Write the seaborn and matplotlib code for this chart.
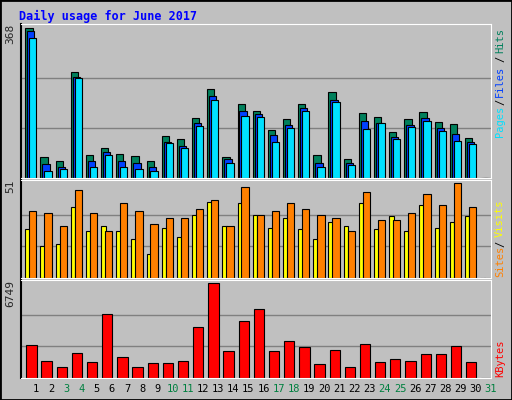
import numpy as np
import pandas as pd
import seaborn as sns
import matplotlib.pyplot as plt
from matplotlib.patches import Rectangle

sns.set_style("white")
plt.rcParams['font.family'] = ['DejaVu Sans Mono']

days = list(range(1, 32))
weekends = [3, 4, 10, 11, 17, 18, 24, 25, 31]

hits = [368, 51, 41, 261, 56, 73, 58, 53, 41, 103, 96, 148, 218, 51, 181,
        166, 118, 146, 183, 56, 211, 46, 161, 151, 113, 146, 163, 138, 133, 98, 0]
files = [363, 35, 28, 248, 43, 63, 41, 36, 28, 88, 78, 136, 201, 46, 166,
         158, 106, 131, 173, 36, 191, 36, 141, 136, 101, 131, 148, 123, 108, 88, 0]
pages = [345, 18, 23, 246, 28, 56, 28, 23, 16, 86, 73, 128, 193, 38, 153,
         151, 88, 123, 166, 26, 188, 31, 121, 136, 96, 126, 141, 116, 91, 83, 0]
sites = [26, 17, 18, 38, 25, 28, 25, 21, 13, 27, 22, 34, 41, 28, 40,
         34, 27, 32, 26, 21, 30, 28, 40, 26, 33, 25, 39, 27, 30, 33, 0]
visits = [36, 35, 28, 47, 35, 25, 40, 36, 29, 32, 32, 37, 42, 28, 49,
          34, 36, 40, 37, 34, 32, 25, 46, 31, 31, 35, 45, 39, 51, 38, 0]
kbytes = [2315, 1207, 764, 1798, 1133, 4532, 1503, 764, 1059, 1059, 1207, 3645,
          6749, 1946, 4015, 4902, 1946, 2611, 2168, 985, 2020, 764, 2389, 1133,
          1355, 1207, 1724, 1724, 2241, 1133, 0]

HITS, FILES, PAGES = '#00805c', '#0040ff', '#00e0ff'
SITES, VISITS, KB = '#ffff00', '#ff8000', '#ff0000'
BG = '#c0c0c0'

fig = plt.figure(figsize=(5.12, 4.0), dpi=100, facecolor=BG)
fig.patches.append(Rectangle((0, 0), 1, 1, transform=fig.transFigure, fill=False,
                             edgecolor='black', lw=2))
fig.text(19 / 512, 1 - 16 / 400, 'Daily usage for June 2017', color='#0000ff',
         fontsize=8.5, fontweight='bold', va='center')

L, W = 21 / 512, 470 / 512
ax1 = fig.add_axes([L, 1 - 178 / 400, W, 154 / 400])
ax2 = fig.add_axes([L, 1 - 278 / 400, W, 98 / 400])
ax3 = fig.add_axes([L, 1 - 378 / 400, W, 98 / 400])

x = np.array(days, dtype=float)
kw = dict(edgecolor='black', linewidth=0.8, align='edge')
ax1.bar(x - 0.22, hits, 0.48, color=HITS, **kw)
ax1.bar(x - 0.09, files, 0.48, color=FILES, **kw)
ax1.bar(x + 0.04, pages, 0.48, color=PAGES, **kw)
ax2.bar(x - 0.22, sites, 0.30, color=SITES, **kw)
ax2.bar(x + 0.04, visits, 0.48, color=VISITS, **kw)

df = pd.DataFrame({'day': x + 0.19, 'kb': kbytes})
sns.barplot(data=df, x='day', y='kb', native_scale=True, width=0.68,
            color=KB, saturation=1, edgecolor='black', linewidth=0.8, ax=ax3)

for ax, top, label in [(ax1, 368, '368'), (ax2, 51, '51'), (ax3, 6749, '6749')]:
    ax.set_facecolor(BG)
    ax.set_xlim(0.5, 31.5)
    ax.set_ylim(0, top * 1.03)
    for f in (1 / 3, 2 / 3):
        ax.axhline(top * f, color='#808080', lw=1, zorder=0)
    ax.set_xticks([])
    ax.set_yticks([])
    ax.set_xlabel('')
    ax.set_ylabel('')
    for s in ['top', 'right', 'bottom']:
        ax.spines[s].set_color('white')
    ax.spines['left'].set_color('black')
    ax.spines['left'].set_linewidth(1.5)
    ax.text(-0.012, 1.0, label, transform=ax.transAxes, rotation=90,
            ha='right', va='top', fontsize=8)

# day labels
for d in days:
    fx = L + W * (d - 0.5 + 0.5) / 31
    fig.text(fx, 1 - 389 / 400, str(d), ha='center', va='center', fontsize=7.5,
             color='#008040' if d in weekends else 'black')

# legend words along the right edge
def side(word, color, ybottom):
    fig.text(500 / 512, 1 - ybottom / 400, word, rotation=90, ha='center',
             va='bottom', fontsize=7.5, color=color)

side('Pages', PAGES, 137)
side('/', 'black', 105)
side('Files', FILES, 97)
side('/', 'black', 62)
side('Hits', HITS, 53)
side('Sites', VISITS, 277)
side('/', 'black', 247)
side('Visits', SITES, 237)
side('KBytes', KB, 377)

fig.savefig('out.png', dpi=100, facecolor=BG)
